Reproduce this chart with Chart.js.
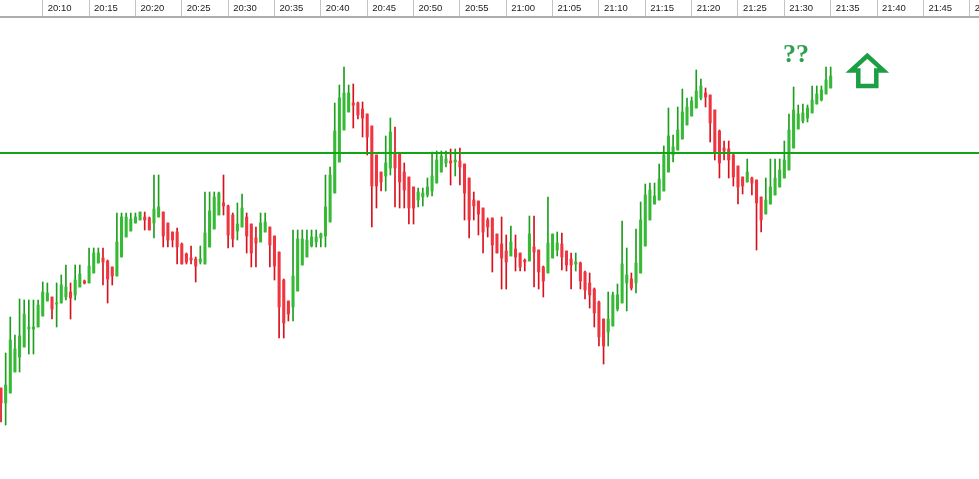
<!DOCTYPE html>
<html>
<head>
<meta charset="utf-8">
<title>chart</title>
<script src="https://cdn.jsdelivr.net/npm/chart.js@4.4.1/dist/chart.umd.min.js"></script>
<style>
  html, body { margin: 0; padding: 0; background: #fff; }
  #chart { display: block; }
</style>
</head>
<body>
<canvas id="chart" width="979" height="479"></canvas>
<script>
// time axis labels, one every 10 candles (5 min)
const timeLabels = ['20:10', '20:15', '20:20', '20:25', '20:30', '20:35', '20:40', '20:45', '20:50', '20:55',
  '21:00', '21:05', '21:10', '21:15', '21:20', '21:25', '21:30', '21:35', '21:40', '21:45', '21:50'];

// OHLC (price in points)
const open = [91, 76, 86, 107, 122, 132, 150, 150, 152, 163,
  178, 182, 175, 176, 182, 187, 184, 192, 198, 196,
  206, 216, 221, 218, 212, 203, 222, 242, 248, 256,
  259, 262, 261, 256, 262, 267, 256, 247, 247, 235,
  225, 221, 220, 217, 215, 232, 250, 264, 276, 273,
  264, 248, 252, 262, 255, 241, 237, 247, 252, 243,
  227, 199, 178, 172, 188, 214, 222, 233, 237, 241,
  243, 257, 286, 317, 349, 367, 376, 376, 370, 365,
  353, 324, 307, 303, 311, 327, 325, 307, 302, 292,
  279, 282, 284, 288, 296, 307, 316, 318, 317, 318,
  315, 301, 279, 278, 271, 259, 261, 245, 235, 228,
  223, 230, 226, 219, 218, 232, 229, 212, 206, 221,
  229, 235, 228, 220, 215, 216, 207, 196, 190, 177,
  160, 147, 153, 170, 176, 196, 200, 196, 206, 233,
  259, 275, 279, 288, 307, 324, 329, 340, 354, 363,
  371, 381, 386, 384, 369, 348, 331, 330, 324, 313,
  302, 297, 301, 299, 282, 265, 275, 284, 292, 301,
  309, 331, 350, 358, 361, 366, 375, 379, 385, 391];
const high = [91, 126, 162, 144, 180, 179, 179, 179, 179, 197,
  196, 182, 196, 204, 214, 196, 214, 214, 199, 231,
  231, 231, 231, 219, 212, 266, 266, 266, 266, 266,
  267, 267, 262, 304, 304, 267, 256, 247, 251, 236,
  226, 233, 222, 233, 287, 287, 287, 287, 304, 274,
  266, 276, 285, 266, 255, 252, 266, 266, 252, 243,
  227, 200, 178, 249, 249, 249, 249, 249, 249, 246,
  304, 312, 376, 394, 412, 394, 395, 377, 377, 365,
  353, 324, 307, 343, 361, 352, 326, 316, 302, 292,
  291, 291, 301, 327, 328, 328, 328, 330, 330, 331,
  315, 301, 287, 278, 271, 261, 261, 245, 262, 244,
  253, 244, 226, 220, 263, 263, 229, 213, 282, 245,
  247, 246, 228, 226, 226, 217, 208, 206, 191, 178,
  160, 187, 187, 195, 258, 231, 206, 250, 277, 295,
  296, 296, 315, 333, 371, 344, 372, 390, 381, 382,
  409, 400, 391, 384, 369, 349, 338, 338, 326, 313,
  302, 320, 302, 299, 282, 301, 320, 320, 320, 338,
  365, 392, 374, 375, 374, 393, 393, 393, 412, 412];
const low = [57, 54, 86, 107, 107, 132, 125, 125, 152, 163,
  178, 160, 152, 176, 179, 160, 179, 192, 195, 196,
  206, 216, 194, 176, 194, 203, 222, 242, 248, 256,
  259, 249, 249, 241, 262, 232, 232, 232, 215, 215,
  215, 215, 197, 215, 215, 232, 250, 264, 264, 231,
  232, 239, 252, 226, 212, 212, 237, 247, 212, 199,
  141, 141, 158, 158, 188, 214, 222, 232, 232, 232,
  232, 257, 286, 317, 349, 367, 351, 360, 342, 324,
  252, 271, 288, 288, 304, 272, 271, 271, 255, 255,
  272, 273, 282, 283, 296, 307, 312, 294, 303, 294,
  259, 241, 259, 244, 226, 242, 207, 226, 190, 190,
  223, 208, 208, 208, 218, 192, 190, 182, 206, 221,
  223, 209, 208, 190, 208, 190, 180, 171, 152, 133,
  115, 133, 153, 168, 176, 168, 189, 186, 206, 233,
  259, 275, 279, 288, 307, 317, 329, 340, 354, 363,
  371, 379, 372, 337, 319, 301, 319, 301, 293, 275,
  285, 297, 284, 229, 247, 265, 275, 284, 292, 301,
  309, 331, 350, 356, 357, 366, 375, 378, 385, 391];
const close = [76, 94, 139, 130, 143, 165, 152, 152, 174, 187,
  186, 170, 176, 194, 192, 181, 199, 205, 196, 213,
  226, 226, 217, 200, 203, 237, 262, 262, 260, 262,
  267, 259, 249, 270, 272, 243, 239, 239, 232, 215,
  217, 219, 213, 220, 246, 268, 282, 286, 273, 244,
  240, 255, 271, 243, 226, 236, 256, 257, 234, 213,
  172, 156, 165, 203, 240, 240, 239, 242, 242, 245,
  272, 304, 348, 381, 386, 386, 374, 364, 361, 342,
  293, 293, 297, 316, 347, 311, 297, 289, 271, 271,
  287, 286, 292, 303, 319, 323, 320, 316, 319, 312,
  286, 259, 273, 265, 247, 252, 234, 226, 221, 217,
  237, 222, 212, 217, 245, 227, 207, 198, 236, 245,
  236, 222, 214, 214, 217, 198, 189, 184, 166, 142,
  133, 160, 184, 184, 215, 204, 191, 216, 259, 284,
  289, 283, 300, 324, 343, 332, 349, 367, 372, 378,
  388, 393, 382, 356, 327, 316, 328, 319, 302, 292,
  293, 307, 296, 276, 259, 279, 292, 301, 309, 319,
  349, 369, 365, 366, 371, 379, 385, 389, 399, 403];

// horizontal level and the note on the right
const levelPrice = 326;
const noteText = '??';
const notePos = { x: 168.7, y: 417 };
const arrowPos = { x: 186.9, y: 393 };

const GREEN = '#1e9e1e', GREEN_BODY = '#36ba36';
const RED = '#d8121c', RED_BODY = '#ee3540';

const idx = open.map((_, i) => i);
const up = idx.map(i => close[i] >= open[i]);

const wicks = idx.map(i => ({ x: i, y: [low[i], high[i]] }));
const bodies = idx.map(i => {
  let a = open[i], b = close[i];
  if (Math.abs(a - b) < 1) b = a + 1;
  return { x: i, y: [a, b] };
});

const notes = {
  id: 'notes',
  afterDatasetsDraw(chart) {
    const { ctx, scales: { x, y } } = chart;
    ctx.save();
    ctx.fillStyle = '#2fa04f';
    ctx.font = 'bold 26px "Liberation Serif"';
    ctx.textAlign = 'left';
    ctx.textBaseline = 'alphabetic';
    ctx.fillText(noteText, x.getPixelForValue(notePos.x), y.getPixelForValue(notePos.y));

    // outlined up arrow
    const ax = x.getPixelForValue(arrowPos.x), ay = y.getPixelForValue(arrowPos.y);
    ctx.beginPath();
    ctx.moveTo(ax - 9, ay);
    ctx.lineTo(ax + 9, ay);
    ctx.lineTo(ax + 9, ay - 15.6);
    ctx.lineTo(ax + 16, ay - 15.6);
    ctx.lineTo(ax, ay - 30.2);
    ctx.lineTo(ax - 16, ay - 15.6);
    ctx.lineTo(ax - 9, ay - 15.6);
    ctx.closePath();
    ctx.lineWidth = 4.5;
    ctx.lineJoin = 'miter';
    ctx.strokeStyle = '#1c9e44';
    ctx.stroke();
    ctx.restore();
  }
};

new Chart(document.getElementById('chart'), {
  type: 'bar',
  data: {
    datasets: [
      {
        type: 'line',
        data: [{ x: -1, y: levelPrice }, { x: 212, y: levelPrice }],
        borderColor: '#12a612',
        borderWidth: 2,
        pointRadius: 0
      },
      {
        data: bodies,
        backgroundColor: idx.map(i => up[i] ? GREEN_BODY : RED_BODY),
        barThickness: 2.4,
        grouped: false
      },
      {
        data: wicks,
        backgroundColor: idx.map(i => up[i] ? GREEN : RED),
        barThickness: 1,
        grouped: false
      }
    ]
  },
  options: {
    responsive: false,
    animation: false,
    devicePixelRatio: 1,
    layout: { padding: 0 },
    plugins: { legend: { display: false }, tooltip: { enabled: false } },
    scales: {
      x: {
        type: 'linear',
        position: 'top',
        min: -0.22,
        max: 211,
        offset: false,
        afterBuildTicks: s => { s.ticks = timeLabels.map((_, k) => ({ value: 9 + 10 * k })); },
        afterFit: s => { s.height = 17; s.paddingLeft = 0; s.paddingRight = 0; },
        ticks: {
          autoSkip: false,
          maxRotation: 0,
          align: 'start',
          crossAlign: 'near',
          padding: -14,
          labelOffset: 5,
          color: '#1a1a1a',
          font: { family: 'Liberation Sans', size: 9.5 },
          callback: (v, k) => timeLabels[k]
        },
        grid: { offset: false, drawOnChartArea: false, drawTicks: true, tickLength: 17, color: '#c4c4c4' },
        border: { color: '#adadad', width: 2 }
      },
      y: { display: false, min: 0, max: 462 }
    }
  },
  plugins: [notes]
});
</script>
</body>
</html>
